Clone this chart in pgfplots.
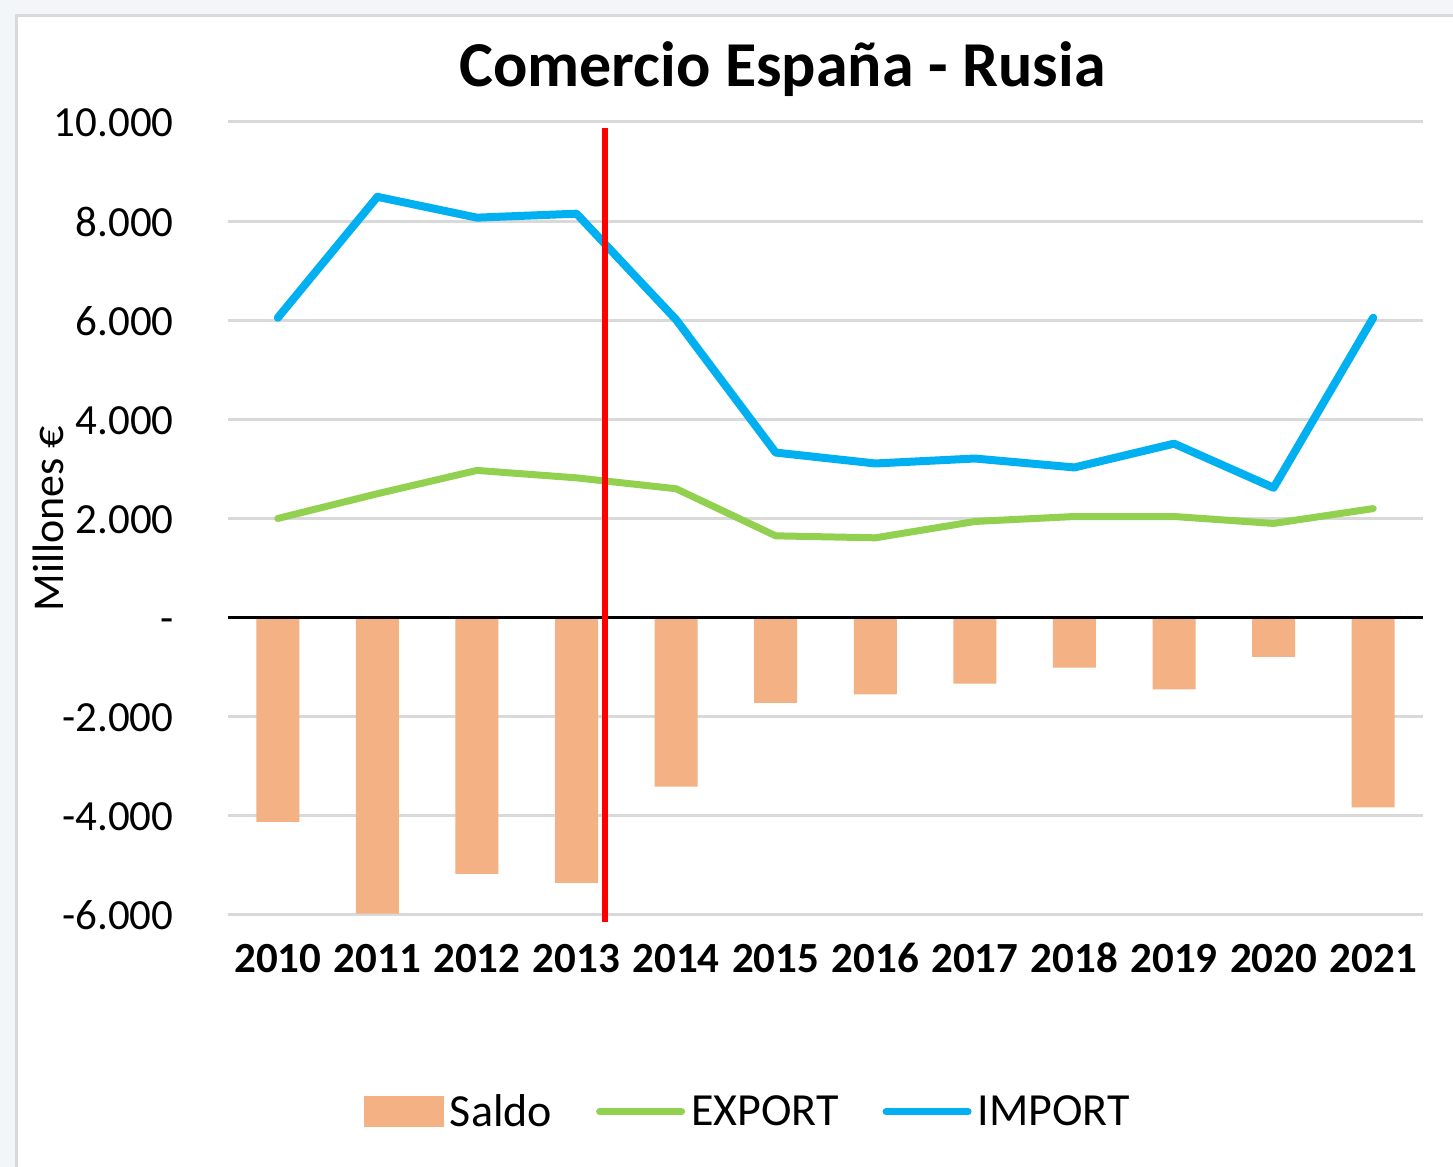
\documentclass[border=0pt]{standalone}
\usepackage{pgfplots}
\pgfplotsset{compat=1.18}
\usepackage{pgfplotstable}
\usepackage{fontspec}
\setmainfont{Carlito}
\definecolor{saldoc}{HTML}{F4B183}
\definecolor{expc}{HTML}{92D050}
\definecolor{impc}{HTML}{00B0F0}
\definecolor{gridc}{HTML}{D9D9D9}
\definecolor{bgc}{HTML}{F3F6F9}
\definecolor{bordc}{HTML}{D9D9D9}
\pgfplotstableread{
x y
0 -4120
1 -5970
2 -5170
3 -5350
4 -3410
5 -1720
6 -1550
7 -1330
8 -1010
9 -1450
10 -790
11 -3830
}\saldo
\pgfplotstableread{
x y
0 2000
1 2500
2 2970
3 2820
4 2600
5 1650
6 1610
7 1940
8 2040
9 2040
10 1900
11 2200
}\export
\pgfplotstableread{
x y
0 6050
1 8490
2 8070
3 8150
4 6010
5 3330
6 3110
7 3210
8 3030
9 3510
10 2620
11 6050
}\import
\begin{document}
\begin{tikzpicture}[x=1pt,y=1pt]
\fill[bgc] (0,0) rectangle (726.5,583.5);
\fill[white] (8,0) rectangle (726.5,575.5);
\draw[bordc, line width=1.5pt] (8,0) -- (8,575.5) -- (726.5,575.5);
\begin{axis}[
  at={(114pt,126pt)}, anchor=south west,
  width=597.5pt, height=396.5pt, scale only axis,
  xmin=-0.5, xmax=11.5, ymin=-6000, ymax=10000,
  clip=false,
  scaled y ticks=false,
  axis line style={draw=none},
  major tick length=0pt,
  xtick={0,...,11},
  xticklabels={2010,2011,2012,2013,2014,2015,2016,2017,2018,2019,2020,2021},
  ytick={-6000,-4000,-2000,0,2000,4000,6000,8000,10000},
  yticklabels={-6.000,-4.000,-2.000,{-\hspace{9.5pt}},2.000,4.000,6.000,8.000,10.000},
  ymajorgrids,
  grid style={gridc, line width=1.5pt},
  xticklabel style={font=\bfseries\fontsize{21.5}{25}\selectfont, anchor=base, inner sep=0pt, yshift=-29pt},
  yticklabel style={font=\fontsize{21.5}{25}\selectfont, anchor=base east, inner sep=0pt, xshift=-27pt, yshift=-7.5pt},
  ylabel={Millones €},
  ylabel style={font=\fontsize{22}{26}\selectfont, at={(rel axis cs:-0.138,0.5)}, anchor=base, rotate=0, inner sep=0pt},
  title={Comercio España - Rusia},
  title style={font=\bfseries\fontsize{32}{38}\selectfont, at={(rel axis cs:0.464,1.030)}, anchor=base, inner sep=0pt},
  legend columns=3,
  legend style={at={(rel axis cs:0.435,-0.248)}, anchor=center, draw=none, fill=none,
    font=\fontsize{23}{27}\selectfont,
    nodes={inner sep=1pt},
    /tikz/every odd column/.append style={column sep=2pt},
    /tikz/every even column/.append style={column sep=21pt}},
]
\addplot[ybar, bar width=21.5pt, bar shift=0pt, fill=saldoc, draw=none,
  legend image code/.code={\fill[saldoc] (0pt,-7.75pt) rectangle (40pt,7.75pt);}] table[x=x,y=y] {\saldo};
\addlegendentry{Saldo}
\addplot[expc, line width=3.5pt, line join=round, line cap=round, mark=none,
  legend image code/.code={\draw[expc, line width=3.5pt, line cap=round] (0pt,0pt) -- (41pt,0pt);}] table[x=x,y=y] {\export};
\addlegendentry{EXPORT}
\addplot[impc, line width=4pt, line join=round, line cap=round, mark=none,
  legend image code/.code={\draw[impc, line width=3.5pt, line cap=round] (0pt,0pt) -- (41pt,0pt);}] table[x=x,y=y] {\import};
\addlegendentry{IMPORT}
\draw[black, line width=1.5pt] (axis cs:-0.5,0) -- (axis cs:11.5,0);
\draw[red, line width=3.2pt] (axis cs:3.287,9879) -- (axis cs:3.287,-6141);
\end{axis}
\pgfresetboundingbox
\useasboundingbox (0,0) rectangle (726.5,583.5);
\end{tikzpicture}
\end{document}
